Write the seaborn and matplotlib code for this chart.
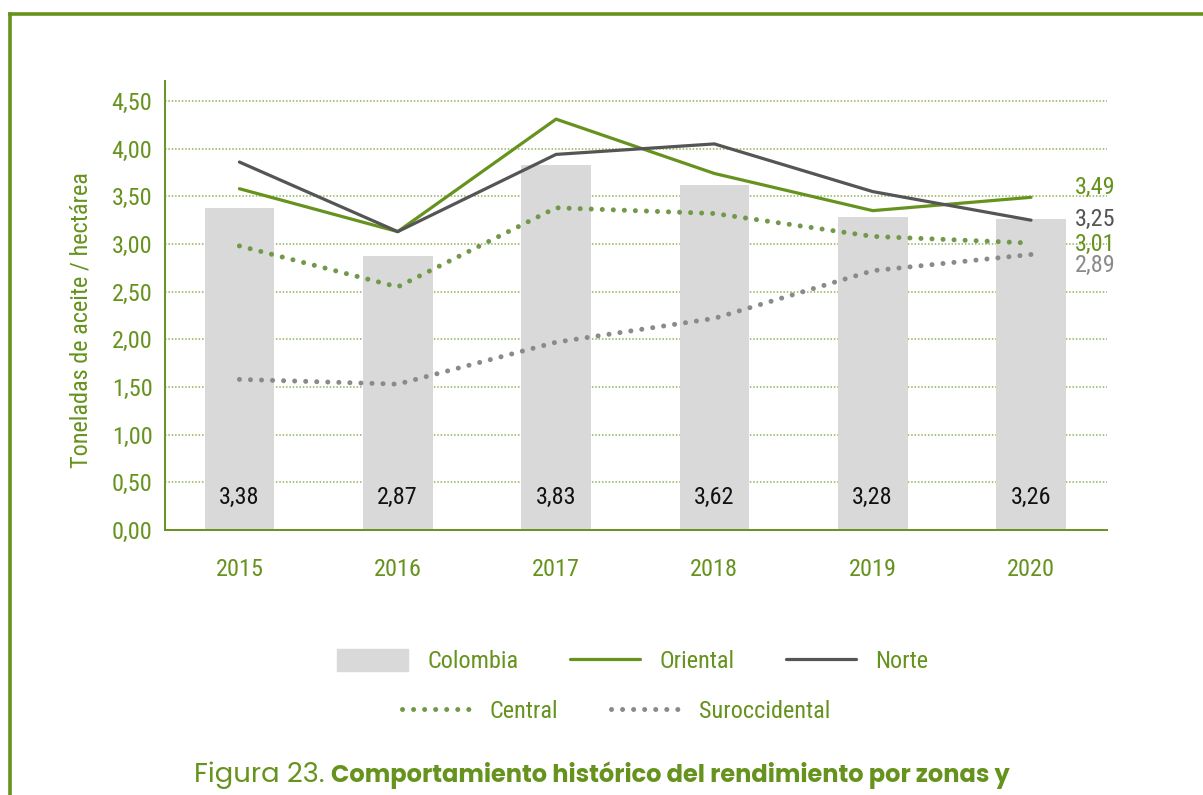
import matplotlib
matplotlib.use("Agg")
import matplotlib.pyplot as plt
import matplotlib.lines as mlines
import matplotlib.patches as mpatches
import seaborn as sns
import pandas as pd
import numpy as np

years = ["2015", "2016", "2017", "2018", "2019", "2020"]
colombia = [3.38, 2.87, 3.83, 3.62, 3.28, 3.26]
oriental = [3.58, 3.13, 4.31, 3.74, 3.35, 3.49]
norte = [3.86, 3.13, 3.94, 4.05, 3.55, 3.25]
central = [2.98, 2.55, 3.38, 3.32, 3.08, 3.01]
suroccidental = [1.58, 1.53, 1.97, 2.22, 2.72, 2.89]
yticks = [0.0, 0.5, 1.0, 1.5, 2.0, 2.5, 3.0, 3.5, 4.0, 4.5]

GREEN = "#66921e"
GRID = "#8fb25a"
DARK = "#555555"
CGREEN = "#72994a"
GREY = "#8a8a8a"
BAR = "#d9d9d9"
FS = 17.5

sns.set_theme(style="white")
FONT = ["Roboto Condensed", "DejaVu Sans"]
CAP = ["Poppins", "DejaVu Sans"]
plt.rcParams["font.family"] = FONT

fig = plt.figure(figsize=(12.03, 7.95), dpi=100)
ax = fig.add_axes([165/1203, 1-530/795, (1107-165)/1203, (530-81)/795])

pos = np.arange(len(years))
df = pd.DataFrame({"pos": pos, "year": years, "Colombia": colombia, "Oriental": oriental,
                   "Norte": norte, "Central": central, "Suroccidental": suroccidental})

ax.set_axisbelow(True)
for t in yticks[1:]:
    ax.axhline(t, color=GRID, lw=1.1, ls=(0, (1, 1.2)), zorder=0)

sns.barplot(data=df, x="year", y="Colombia", color=BAR, width=0.44, ax=ax,
            saturation=1, zorder=1, edgecolor="none")

sns.lineplot(data=df, x="pos", y="Oriental", color=GREEN, lw=2.3, ax=ax, zorder=3)
sns.lineplot(data=df, x="pos", y="Norte", color=DARK, lw=2.3, ax=ax, zorder=3)
sns.lineplot(data=df, x="pos", y="Central", color=CGREEN, lw=3.6, ax=ax, zorder=3)
sns.lineplot(data=df, x="pos", y="Suroccidental", color=GREY, lw=3.6, ax=ax, zorder=3)
DOT = (0, (0.01, 2.2))
for ln in ax.lines[-2:]:
    ln.set_linestyle(DOT)
    ln.set_dash_capstyle("round")

ax.set_xlim(-0.47, 5.48)
ax.set_ylim(0, 4.71)
ax.set_yticks(yticks)
ax.set_yticklabels([f"{v:.2f}".replace(".", ",") for v in yticks])
ax.set_xticks(pos)
ax.set_xticklabels(years)
ax.tick_params(axis="both", length=0, labelsize=FS, colors=GREEN)
ax.tick_params(axis="x", pad=20)
ax.tick_params(axis="y", pad=9)
ax.set_xlabel("")
ax.set_ylabel("Toneladas de aceite / hectárea", fontsize=FS, color=GREEN)
ax.yaxis.set_label_coords(-(165-93)/942, (530-320)/449)
for s in ["top", "right"]:
    ax.spines[s].set_visible(False)
for s in ["left", "bottom"]:
    ax.spines[s].set_color(GREEN)
    ax.spines[s].set_linewidth(1.4)

for i, v in enumerate(colombia):
    ax.annotate(f"{v:.2f}".replace(".", ","), (pos[i], 0), xytext=(0, 33),
                textcoords="offset pixels", ha="center", va="center",
                fontsize=FS, color="#111111")

ends = [(oriental[-1], GREEN, 10), (norte[-1], DARK, 1), (central[-1], GREEN, -1), (suroccidental[-1], GREY, -11)]
for v, c, dy in ends:
    ax.annotate(f"{v:.2f}".replace(".", ","), (pos[-1], v), xytext=(44, dy),
                textcoords="offset pixels", ha="left", va="center",
                fontsize=FS, color=c, annotation_clip=False)

h_col = mpatches.Patch(color=BAR)
h_ori = mlines.Line2D([], [], color=GREEN, lw=2.3)
h_nor = mlines.Line2D([], [], color=DARK, lw=2.3)
h_cen = mlines.Line2D([], [], color=CGREEN, lw=3.6, ls=DOT, dash_capstyle="round")
h_sur = mlines.Line2D([], [], color=GREY, lw=3.6, ls=DOT, dash_capstyle="round")
leg1 = fig.legend([h_col, h_ori, h_nor], ["Colombia", "Oriental", "Norte"], ncol=3,
                  loc="center", bbox_to_anchor=(633/1203, 1-661/795), frameon=False,
                  fontsize=FS, handlelength=2.9, handletextpad=0.8, columnspacing=2.1,
                  handleheight=1.0)
leg2 = fig.legend([h_cen, h_sur], ["Central", "Suroccidental"], ncol=2,
                  loc="center", bbox_to_anchor=(616/1203, 1-711/795), frameon=False,
                  fontsize=FS, handlelength=3.0, handletextpad=0.6, columnspacing=2.2)
for lg in (leg1, leg2):
    for t in lg.get_texts():
        t.set_color(GREEN)

fig.add_artist(mlines.Line2D([10/1203, 10/1203], [0, 1-13.5/795], color=GREEN, lw=2.6,
                             transform=fig.transFigure, solid_capstyle="projecting"))
fig.add_artist(mlines.Line2D([10/1203, 1], [1-13.5/795, 1-13.5/795], color=GREEN, lw=2.6,
                             transform=fig.transFigure, solid_capstyle="projecting"))

t1 = fig.text(325/1203, 1-775/795, "Figura 23.", ha="right", va="center", fontsize=15,
              color=GREEN, family=CAP, weight="normal")
t2 = fig.text(331/1203, 1-775/795, "Comportamiento histórico del rendimiento por zonas y",
              ha="left", va="center", fontsize=15, color=GREEN, family=CAP, weight="bold")
r = fig.canvas.get_renderer()
w2 = t2.get_window_extent(r).width
t2.set_fontsize(15 * 680 / w2)
w1 = t1.get_window_extent(r).width
t1.set_fontsize(15 * 130 / w1)

fig.savefig("out.png", dpi=100)
